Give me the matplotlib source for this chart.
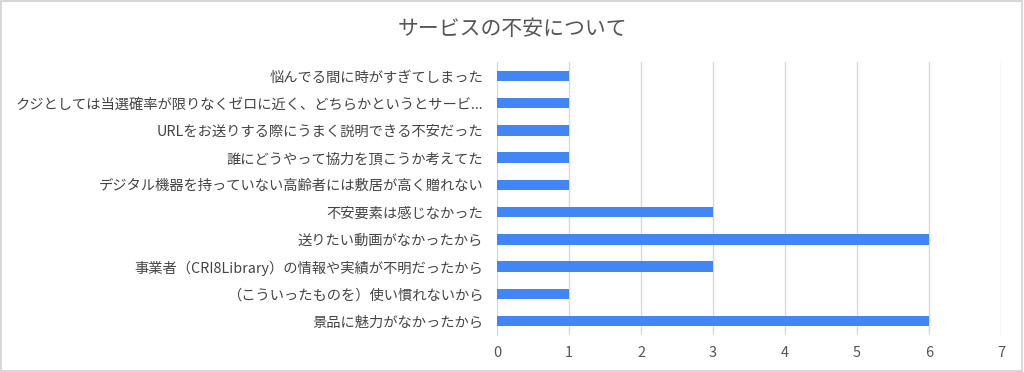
import matplotlib
matplotlib.use("Agg")
import matplotlib.pyplot as plt
from matplotlib.patches import Rectangle

plt.rcParams['font.family'] = ['Noto Sans CJK JP', 'DejaVu Sans']

title = 'サービスの不安について'
labels = [
    '悩んでる間に時がすぎてしまった',
    'クジとしては当選確率が限りなくゼロに近く、どちらかというとサービ...',
    'URLをお送りする際にうまく説明できる不安だった',
    '誰にどうやって協力を頂こうか考えてた',
    'デジタル機器を持っていない高齢者には敷居が高く贈れない',
    '不安要素は感じなかった',
    '送りたい動画がなかったから',
    '事業者（CRI8Library）の情報や実績が不明だったから',
    '（こういったものを）使い慣れないから',
    '景品に魅力がなかったから',
]
values = [1, 1, 1, 1, 1, 3, 6, 3, 1, 6]
xticks = [0, 1, 2, 3, 4, 5, 6, 7]

fig = plt.figure(figsize=(10.24, 3.72), dpi=100)
fig.patches.append(Rectangle((0.001, 0.002), 0.997, 0.995, transform=fig.transFigure,
                             fill=False, edgecolor='#d0d0d0', linewidth=1.2))
ax = fig.add_axes([0.4854, 0.1005, 0.4922, 0.7318])

ypos = list(range(len(labels)))
ax.barh(ypos, values, height=0.38, color='#4285f4', zorder=3)
ax.set_ylim(len(labels) - 0.5, -0.5)
ax.set_xlim(0, 7)
ax.set_xticks(xticks)
ax.set_yticks(ypos)
ax.set_yticklabels(labels, fontsize=10.3, color='#444444')
ax.tick_params(axis='y', length=0, pad=10)
ax.tick_params(axis='x', length=0, pad=8, labelsize=10.5, labelcolor='#555555')
ax.grid(axis='x', color='#d9d9d9', linewidth=1, zorder=0)
for s in ['top', 'right', 'bottom']:
    ax.spines[s].set_visible(False)
ax.spines['left'].set_color('#d9d9d9')

fig.text(0.5, 0.922, title, ha='center', va='center', fontsize=15, color='#555555')

fig.savefig('out.png', dpi=100)
